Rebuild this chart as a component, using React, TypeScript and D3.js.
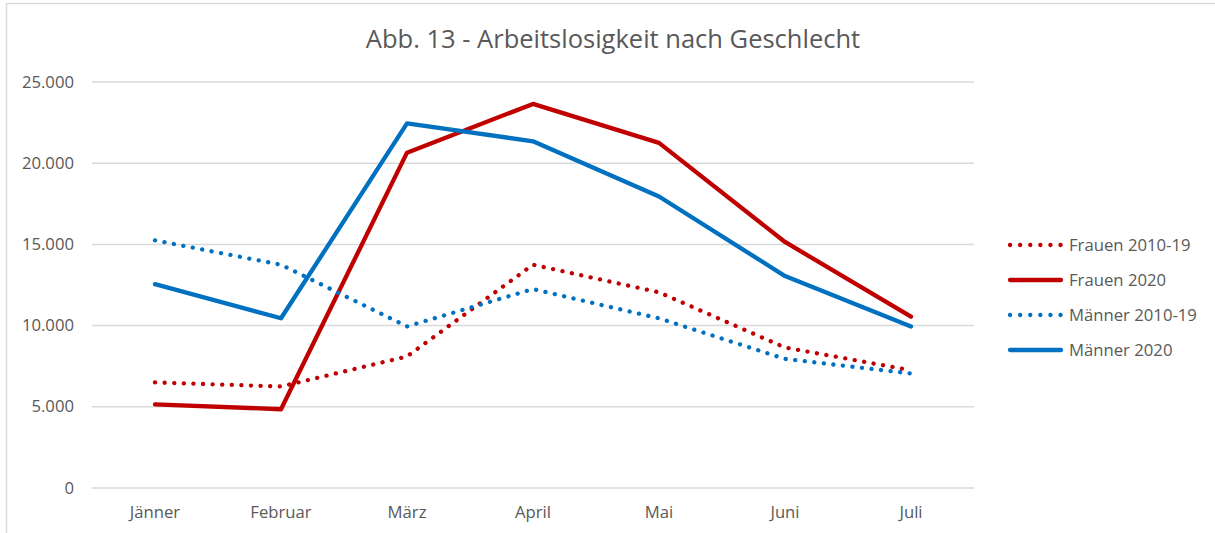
import React from "react";
import * as d3 from "d3";

const months = ["Jänner", "Februar", "März", "April", "Mai", "Juni", "Juli"];
const frauen1019 = [6500, 6250, 8100, 13750, 12050, 8650, 7250];
const frauen2020 = [5150, 4850, 20650, 23650, 21250, 15150, 10550];
const maenner1019 = [15250, 13750, 9950, 12250, 10450, 7950, 7050];
const maenner2020 = [12550, 10450, 22450, 21350, 17950, 13050, 9950];
const yTicks = [0, 5000, 10000, 15000, 20000, 25000];
const title = "Abb. 13 - Arbeitslosigkeit nach Geschlecht";

const seriesNames = ["Frauen 2010-19", "Frauen 2020", "Männer 2010-19", "Männer 2020"];
const seriesData = [frauen1019, frauen2020, maenner1019, maenner2020];
const seriesColors = ["#C00000", "#C00000", "#0070C0", "#0070C0"];
const seriesDotted = [true, false, true, false];

const W = 1215;
const H = 533;
const font = "'Open Sans', sans-serif";
const textColor = "#595959";

export default function App() {
  const x = d3.scaleBand<string>().domain(months).range([92, 974]);
  const y = d3.scaleLinear().domain([0, 25000]).range([488, 82]);
  const line = d3
    .line<number>()
    .x((_, i) => (x(months[i]) as number) + x.bandwidth() / 2)
    .y((d) => y(d));
  const fmt = (v: number) => d3.format(",")(v).replace(/,/g, ".");

  return (
    <svg
      width={W}
      height={H}
      style={{ position: "absolute", left: 0, top: 0, background: "#fff" }}
      fontFamily={font}
    >
      <rect x={0} y={0} width={W} height={H} fill="#fff" />
      <line x1={6.5} y1={3.5} x2={W} y2={3.5} stroke="#d9d9d9" strokeWidth={1.5} />
      <line x1={6.5} y1={3.5} x2={6.5} y2={H} stroke="#d9d9d9" strokeWidth={1.5} />
      <text x={613} y={48} textAnchor="middle" fontSize={25.5} fill={textColor}>
        {title}
      </text>
      {yTicks.map((t) => (
        <g key={t}>
          <line x1={92} x2={974} y1={y(t)} y2={y(t)} stroke="#d9d9d9" strokeWidth={1.5} />
          <text x={74} y={y(t) + 5.5} textAnchor="end" fontSize={16.7} fill={textColor}>
            {fmt(t)}
          </text>
        </g>
      ))}
      {months.map((m) => (
        <text
          key={m}
          x={(x(m) as number) + x.bandwidth() / 2}
          y={518}
          textAnchor="middle"
          fontSize={16.7}
          fill={textColor}
        >
          {m}
        </text>
      ))}
      {seriesData.map((d, i) => (
        <path
          key={seriesNames[i]}
          d={line(d) || ""}
          fill="none"
          stroke={seriesColors[i]}
          strokeWidth={4.3}
          strokeLinecap="round"
          strokeLinejoin="round"
          strokeDasharray={seriesDotted[i] ? "0.1 9.5" : undefined}
        />
      ))}
      {seriesNames.map((n, i) => {
        const ly = 245 + i * 35;
        return (
          <g key={n}>
            <line
              x1={1010}
              x2={1061}
              y1={ly}
              y2={ly}
              stroke={seriesColors[i]}
              strokeWidth={4.3}
              strokeLinecap="round"
              strokeDasharray={seriesDotted[i] ? "0.1 10" : undefined}
            />
            <text x={1069} y={ly + 5.5} fontSize={16.7} fill={textColor}>
              {n}
            </text>
          </g>
        );
      })}
    </svg>
  );
}
